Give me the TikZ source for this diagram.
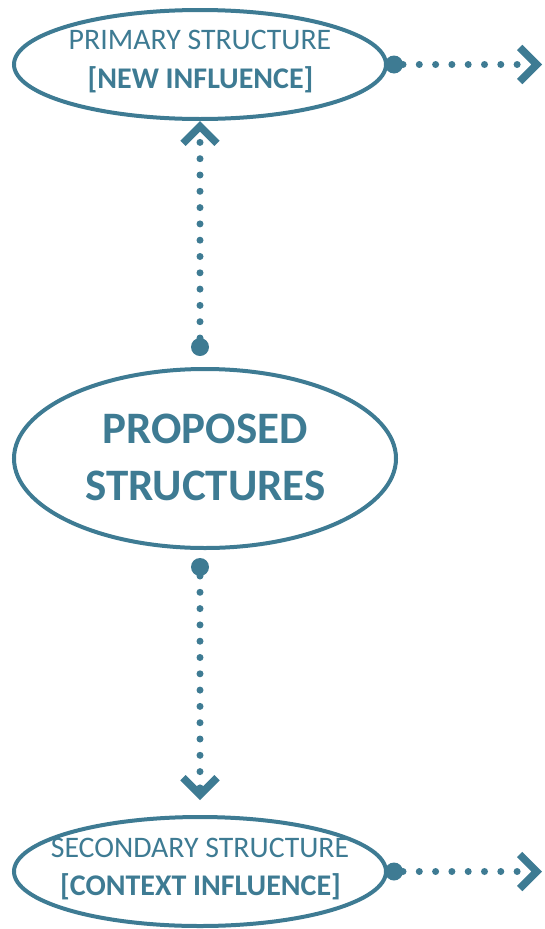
\documentclass[tikz,border=0pt]{standalone}
\usepackage{fontspec}
\setmainfont{Carlito}
\usetikzlibrary{shapes.geometric,arrows.meta}
\definecolor{teal}{RGB}{62,123,147}
\tikzset{
  oval/.style={ellipse,draw=teal,line width=4pt,inner sep=0pt},
  lighttext/.style={text=teal,font=\fontsize{29.8}{32}\selectfont,anchor=base,inner sep=0pt},
  boldtext/.style={text=teal,font=\bfseries\fontsize{30}{32}\selectfont,anchor=base,inner sep=0pt},
  bigtext/.style={text=teal,font=\bfseries\fontsize{45}{47}\selectfont,anchor=base,inner sep=0pt},
  conn/.style={draw=teal,line width=7pt,line cap=round,dash pattern=on 0pt off 16.3pt,
    {Circle[length=18pt,line width=0pt]}-{Straight Barb[length=17pt,width=34pt,line width=7.5pt,line cap=butt,line join=miter]}}
}
\begin{document}
\begin{tikzpicture}[x=1pt,y=1pt]
\useasboundingbox (0,0) rectangle (544,-929);
\node[oval,minimum width=372pt,minimum height=109pt] (top) at (200,-64.5) {};
\node[oval,minimum width=382pt,minimum height=179pt] (mid) at (205,-458.5) {};
\node[oval,minimum width=372pt,minimum height=109pt] (bot) at (200,-871.5) {};
\node[lighttext] (t1) at (200,-49) {PRIMARY STRUCTURE};
\node[boldtext] (t2) at (200.5,-88) {[NEW INFLUENCE]};
\node[bigtext] (m1) at (205,-443.5) {PROPOSED};
\node[bigtext] (m2) at (205.5,-500) {STRUCTURES};
\node[lighttext] (b1) at (200,-857) {SECONDARY STRUCTURE};
\node[boldtext] (b2) at (200.5,-895) {[CONTEXT INFLUENCE]};
\coordinate (r1) at (542,-64.5);
\coordinate (r2) at (542,-871.5);
\draw[conn,shorten <=11pt] (top.south |- mid.north) -- (top.south);
\draw[conn,shorten <=8pt,shorten >=15pt] (bot.north |- mid.south) -- (bot.north);
\draw[conn,shorten <=-3pt] (top.east) -- (r1);
\draw[conn,shorten <=-3pt] (bot.east) -- (r2);
\end{tikzpicture}
\end{document}
